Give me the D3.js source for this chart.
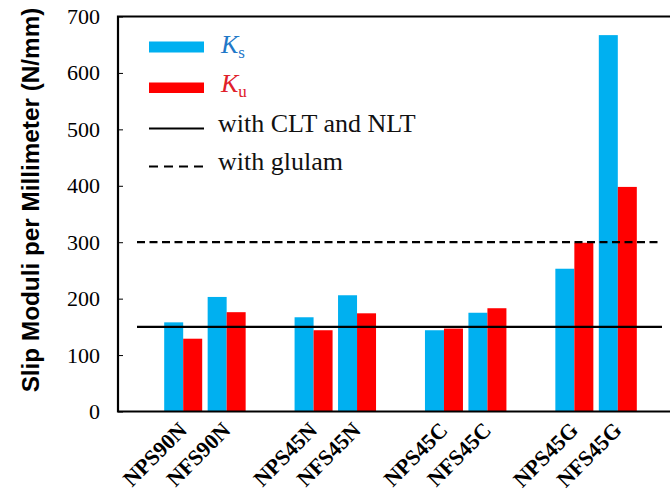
<!DOCTYPE html>
<html><head><meta charset="utf-8">
<script src="https://cdn.jsdelivr.net/npm/d3@7"></script>
<style>body{margin:0;background:#fff}svg{display:block}</style>
</head><body>
<script>
const categories = ["NPS90N","NFS90N","NPS45N","NFS45N","NPS45C","NFS45C","NPS45G","NFS45G"];
const ksValues = [158, 203, 167, 206, 144, 175, 253, 667];
const kuValues = [129, 176, 144, 174, 147, 183, 299, 398];
const yTicks = [0,100,200,300,400,500,600,700];
const refCLT = 150;
const refGlulam = 300;

const W = 670, H = 491;
const svg = d3.select("body").append("svg").attr("width", W).attr("height", H);

// slots: blank, pair, blank, pair, ... blank
const slots = ["_g0"];
categories.forEach((c,i)=>{ slots.push(c); if (i%2===1) slots.push("_g"+(i+1)); });

const pLeft = 118, pRight = 683, pTop = 16.5, pBottom = 411.5;
const x = d3.scaleBand().domain(slots).range([pLeft, pRight]).padding(0);
const y = d3.scaleLinear().domain([0,700]).range([pBottom, pTop]);
const bw = 19;

// bars
const g = svg.append("g");
g.selectAll("rect.ks").data(categories).join("rect").attr("class","ks")
  .attr("x", d => x(d) + x.bandwidth()/2 - bw)
  .attr("y", (d,i) => y(ksValues[i]))
  .attr("width", bw).attr("height", (d,i) => y(0) - y(ksValues[i]))
  .attr("fill", "#00b0f0");
g.selectAll("rect.ku").data(categories).join("rect").attr("class","ku")
  .attr("x", d => x(d) + x.bandwidth()/2)
  .attr("y", (d,i) => y(kuValues[i]))
  .attr("width", bw).attr("height", (d,i) => y(0) - y(kuValues[i]))
  .attr("fill", "#ff0000");

// reference lines
svg.append("line").attr("x1",137).attr("x2",662).attr("y1",y(refCLT)).attr("y2",y(refCLT))
  .attr("stroke","#000").attr("stroke-width",2.2);
svg.append("line").attr("x1",137).attr("x2",662).attr("y1",y(refGlulam)).attr("y2",y(refGlulam))
  .attr("stroke","#000").attr("stroke-width",2.2).attr("stroke-dasharray","8,4.5");

// frame
svg.append("path").attr("d", `M${pRight},${pTop}H${pLeft}V${pBottom}H${pRight}`)
  .attr("fill","none").attr("stroke","#000").attr("stroke-width",2.2);

// y axis ticks & labels
const yAxis = d3.axisLeft(y).tickValues(yTicks).tickSize(-5).tickPadding(18).tickFormat(d3.format("d"));
const ya = svg.append("g").attr("transform",`translate(${pLeft},0)`).call(yAxis);
ya.select(".domain").remove();
ya.selectAll("line").attr("stroke","#000").attr("stroke-width",1);
ya.selectAll("text").attr("font-family","'Liberation Serif', 'Times New Roman', serif")
  .attr("font-size",22).attr("fill","#000");

// x labels
const xa = svg.append("g");
xa.selectAll("text").data(categories).join("text")
  .attr("transform", d => `translate(${x(d)+x.bandwidth()/2+5},${pBottom+20}) rotate(-45)`)
  .attr("text-anchor","end")
  .attr("font-family","'Liberation Serif', 'Times New Roman', serif")
  .attr("font-weight","bold").attr("font-size",22).attr("fill","#000")
  .text(d => d);

// y title
svg.append("text").attr("transform","translate(39,200) rotate(-90)")
  .attr("text-anchor","middle")
  .attr("font-family","'Liberation Sans', Arial, sans-serif")
  .attr("font-weight","bold").attr("font-size",24.3).attr("fill","#000")
  .text("Slip Moduli per Millimeter (N/mm)");

// legend
const lg = svg.append("g");
const serif = "'Liberation Serif', 'Times New Roman', serif";
lg.append("rect").attr("x",149).attr("y",41.5).attr("width",55).attr("height",11).attr("fill","#00b0f0");
lg.append("rect").attr("x",149).attr("y",82.5).attr("width",55).attr("height",10.5).attr("fill","#ff0000");
lg.append("line").attr("x1",149).attr("x2",204).attr("y1",128.5).attr("y2",128.5).attr("stroke","#000").attr("stroke-width",2.2);
lg.append("line").attr("x1",149).attr("x2",204).attr("y1",166.5).attr("y2",166.5).attr("stroke","#000").attr("stroke-width",2.2).attr("stroke-dasharray","9,6");

const t1 = lg.append("text").attr("x",221).attr("y",53).attr("font-family",serif).attr("font-size",26).attr("fill","#1f78c8");
t1.append("tspan").attr("font-style","italic").text("K");
t1.append("tspan").attr("font-size",17).attr("dy",5).text("s");
const t2 = lg.append("text").attr("x",221).attr("y",92).attr("font-family",serif).attr("font-size",26).attr("fill","#e0202a");
t2.append("tspan").attr("font-style","italic").text("K");
t2.append("tspan").attr("font-size",17).attr("dy",5).text("u");
lg.append("text").attr("x",218).attr("y",132).attr("font-family",serif).attr("font-size",26).attr("fill","#111").text("with CLT and NLT");
lg.append("text").attr("x",218).attr("y",170).attr("font-family",serif).attr("font-size",26).attr("fill","#111").text("with glulam");
</script>
</body></html>
